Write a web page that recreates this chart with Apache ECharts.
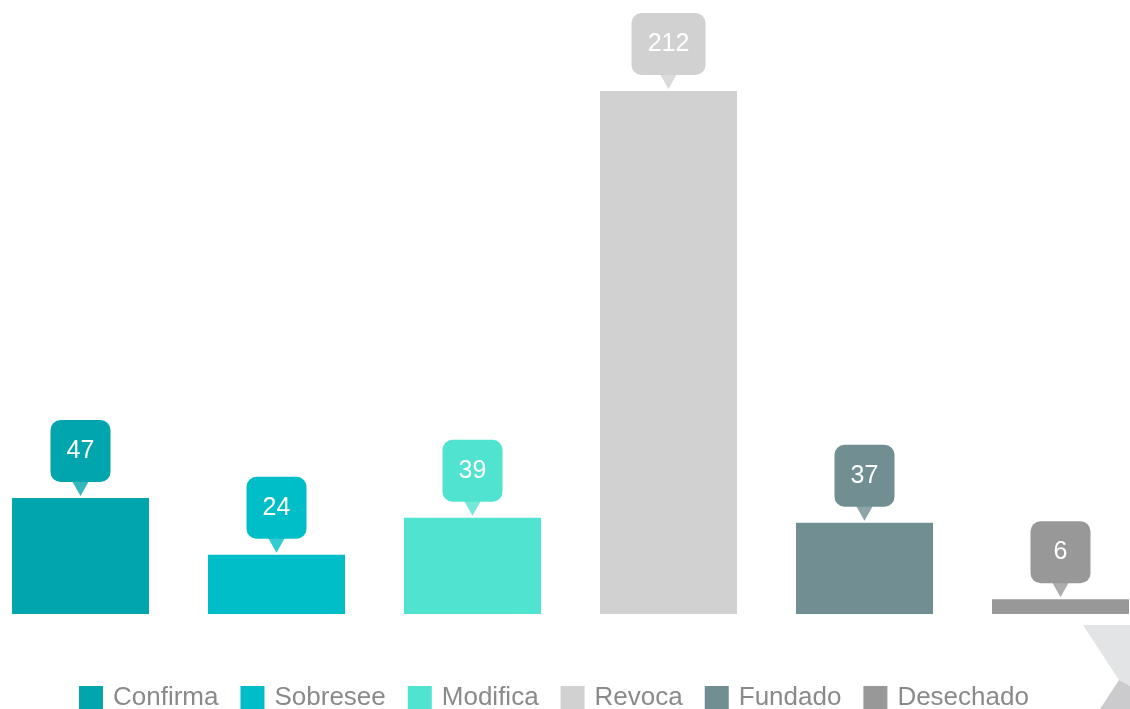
<!DOCTYPE html>
<html>
<head>
<meta charset="utf-8">
<script src="https://cdn.jsdelivr.net/npm/echarts@6/dist/echarts.min.js"></script>
<style>
  html, body { margin: 0; padding: 0; background: #fff; }
  #chart { width: 1130px; height: 709px; }
</style>
</head>
<body>
<div id="chart"></div>
<script>
  // data
  const categories = ['Confirma', 'Sobresee', 'Modifica', 'Revoca', 'Fundado', 'Desechado'];
  const values = [47, 24, 39, 212, 37, 6];
  const colors = ['#00a5ae', '#00bec7', '#4fe3d0', '#d1d1d1', '#718f93', '#989898'];

  const chart = echarts.init(document.getElementById('chart'));

  // one series per category so the legend lists all six
  const barSeries = categories.map((name, i) => ({
    name: name,
    type: 'bar',
    barWidth: 137,
    barGap: '-100%',
    data: values.map((v, j) => (j === i ? v : '-')),
    itemStyle: { color: colors[i] },
    label: {
      show: true,
      position: 'top',
      distance: 16,
      color: '#fff',
      fontFamily: 'Liberation Sans, Arial, sans-serif',
      fontSize: 25,
      lineHeight: 28,
      // boxes have a minimum width, wider numbers grow them
      width: Math.max(28, String(values[i]).length * 14),
      align: 'center',
      padding: [17, 16],
      borderRadius: 10,
      backgroundColor: colors[i]
    }
  }));

  // little pointer under each label box
  const pointerSeries = {
    type: 'scatter',
    silent: true,
    z: 3,
    symbol: 'path://M0,0 L20,0 L10,16 Z',
    symbolSize: [18, 16],
    symbolOffset: [0, -10],
    data: values.map((v, i) => ({ value: v, itemStyle: { color: colors[i] } }))
  };

  const option = {
    animation: false,
    // boundaryGap false puts category centres on the grid edges
    grid: { left: 80.5, width: 980, top: 91, bottom: 95 },
    xAxis: {
      type: 'category',
      data: categories,
      boundaryGap: false,
      show: false
    },
    yAxis: {
      type: 'value',
      min: 0,
      max: Math.max(...values),
      show: false
    },
    legend: {
      data: categories,
      left: 74,
      top: 680,
      icon: 'rect',
      itemWidth: 24,
      itemHeight: 24,
      itemGap: 22,
      textStyle: {
        color: '#8a8a8a',
        fontSize: 26,
        fontFamily: 'Liberation Sans, Arial, sans-serif',
        padding: [3, 0, 0, 5]
      }
    },
    graphic: [
      {
        type: 'polygon',
        silent: true,
        shape: { points: [[1083, 625], [1130, 625], [1130, 686], [1119, 680]] },
        style: { fill: '#e3e4e6' }
      },
      {
        type: 'polygon',
        silent: true,
        shape: { points: [[1100, 709], [1119, 680], [1130, 686], [1130, 709]] },
        style: { fill: '#cbcbcd' }
      }
    ],
    series: barSeries.concat([pointerSeries])
  };

  option && chart.setOption(option);
</script>
</body>
</html>
